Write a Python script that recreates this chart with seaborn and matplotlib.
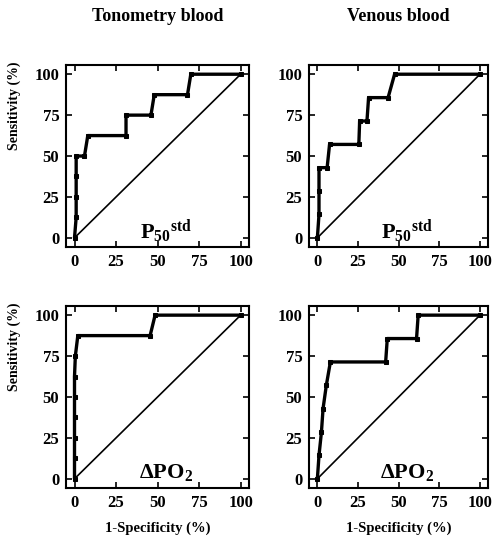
import pandas as pd
import matplotlib
matplotlib.use('Agg')
import matplotlib.pyplot as plt
import seaborn as sns

sns.set_style('ticks')
plt.rcParams['font.family'] = ['Liberation Serif', 'DejaVu Serif']
plt.rcParams['font.weight'] = 'bold'
plt.rcParams['mathtext.fontset'] = 'custom'
plt.rcParams['mathtext.rm'] = 'Liberation Serif:bold'
plt.rcParams['mathtext.it'] = 'Liberation Serif:bold'
plt.rcParams['mathtext.bf'] = 'Liberation Serif:bold'
for key in ['text.color', 'axes.labelcolor', 'xtick.color', 'ytick.color', 'axes.edgecolor']:
    plt.rcParams[key] = 'black'

# ROC-Kurven
tono_p50_fpr = [0, 1, 1, 1, 1, 6, 8, 31, 31, 46, 48, 68, 70, 100]
tono_p50_tpr = [0, 12.5, 25, 37.5, 50, 50, 62.5, 62.5, 75, 75, 87.5, 87.5, 100, 100]

ven_p50_fpr = [0, 1, 1, 1, 6, 7.5, 25.5, 26, 30.5, 31.5, 43.5, 47.5, 100]
ven_p50_tpr = [0, 14.3, 28.6, 42.9, 42.9, 57.1, 57.1, 71.4, 71.4, 85.7, 85.7, 100, 100]

tono_dpo2_fpr = [0, 0, 0, 0, 0, 0, 0.5, 2, 45.5, 48.5, 100]
tono_dpo2_tpr = [0, 12.5, 25, 37.5, 50, 62.5, 75, 87.5, 87.5, 100, 100]

ven_dpo2_fpr = [0, 1, 2.5, 3.5, 5.5, 8, 42, 43, 61, 62, 100]
ven_dpo2_tpr = [0, 14.3, 28.6, 42.9, 57.1, 71.4, 71.4, 85.7, 85.7, 100, 100]

col_titles = ['Tonometry blood', 'Venous blood']
labels = [r'P$_{50}{}^{std}$', r'$\Delta$PO$_{2}$']
ticks = [0, 25, 50, 75, 100]

curves = [[(tono_p50_fpr, tono_p50_tpr), (ven_p50_fpr, ven_p50_tpr)],
          [(tono_dpo2_fpr, tono_dpo2_tpr), (ven_dpo2_fpr, ven_dpo2_tpr)]]

fig = plt.figure(figsize=(4.94, 5.39), dpi=100)
lefts = [0.134, 0.626]
widths = [0.370, 0.362]
bottoms = [0.542, 0.095]
height = 0.337

for r in range(2):
    for c in range(2):
        ax = fig.add_axes([lefts[c], bottoms[r], widths[c], height])
        fpr, tpr = curves[r][c]
        df = pd.DataFrame({'fpr': fpr, 'tpr': tpr})
        sns.lineplot(data=df, x='fpr', y='tpr', sort=False, estimator=None,
                     color='black', lw=2.4, marker='s', ms=3.5, mec='black', ax=ax)
        sns.lineplot(x=[0, 100], y=[0, 100], color='black', lw=1.2, ax=ax)
        ax.set_xlim(-5, 105)
        ax.set_ylim(-5.5, 105.5)
        ax.set_xticks(ticks)
        ax.set_yticks(ticks)
        ax.set_xticklabels([str(t) for t in ticks])
        ax.set_yticklabels([str(t) for t in ticks])
        ax.tick_params(direction='in', length=4, width=1.2, top=True, right=True,
                       labelsize=12, pad=5)
        for lab in ax.get_xticklabels() + ax.get_yticklabels():
            lab.set_fontweight('bold')
        for sp in ax.spines.values():
            sp.set_linewidth(1.5)
        ax.set_xlabel('')
        ax.set_ylabel('')
        ax.text(55, 4, labels[r], fontsize=16, ha='center', va='center')
        if c == 0:
            ax.set_ylabel('Sensitivity (%)', fontsize=10, fontweight='bold', loc='top')
            ax.yaxis.set_label_coords(-0.245, 1.02)
        if r == 0:
            ax.set_title(col_titles[c], fontsize=13, fontweight='bold', pad=32)
        if r == 1:
            ax.set_xlabel('1-Specificity (%)', fontsize=10.5, fontweight='bold', labelpad=8)

fig.savefig('out.png', dpi=100)
